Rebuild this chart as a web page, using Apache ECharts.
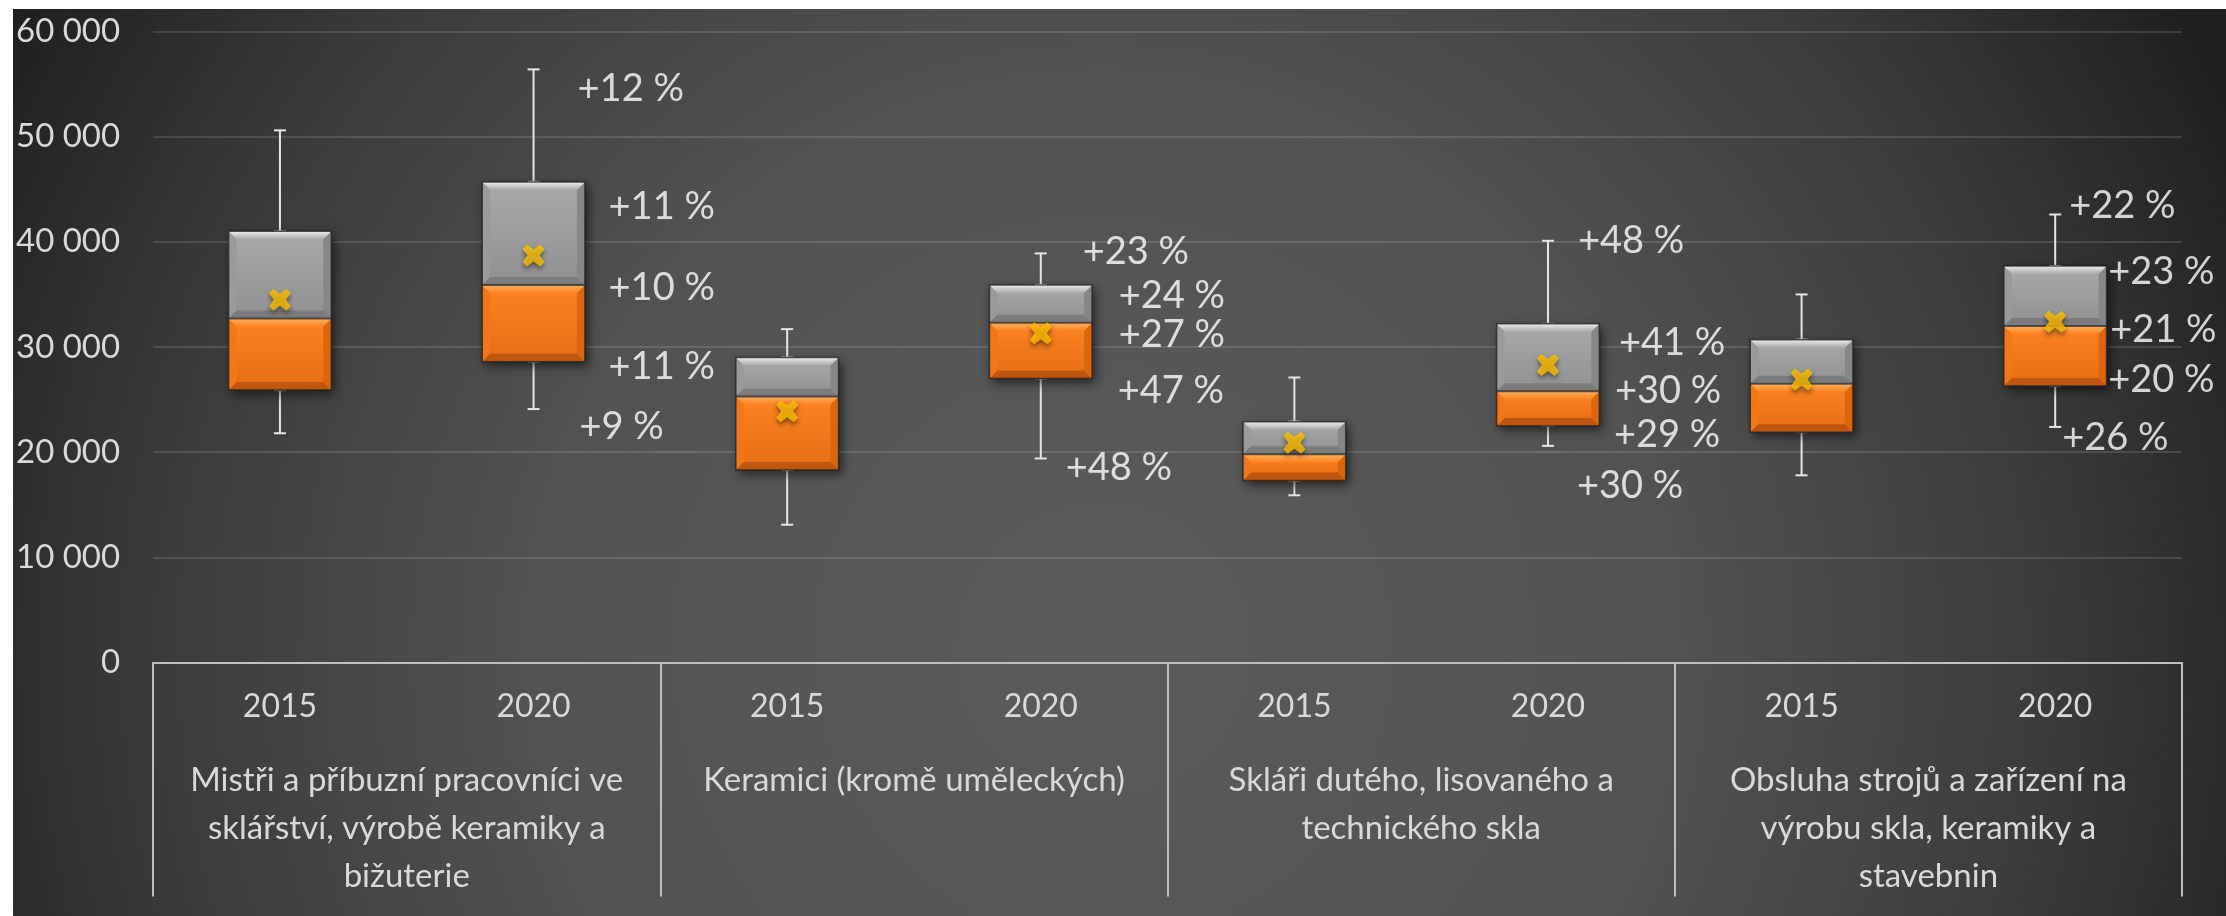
<!DOCTYPE html>
<html>
<head>
<meta charset="utf-8">
<script src="https://cdn.jsdelivr.net/npm/echarts@6/dist/echarts.min.js"></script>
<style>
  html, body { margin: 0; padding: 0; background: #ffffff; }
  #main { position: absolute; left: 13px; top: 9px; width: 2213px; height: 907px; }
</style>
</head>
<body>
<div id="main"></div>
<script>
// categories
const years = ['2015', '2020', '2015', '2020', '2015', '2020', '2015', '2020']
const groups = [
  'Mistři a příbuzní pracovníci ve\nsklářství, výrobě keramiky a\nbižuterie',
  'Keramici (kromě uměleckých)',
  'Skláři dutého, lisovaného a\ntechnického skla',
  'Obsluha strojů a zařízení na\nvýrobu skla, keramiky a\nstavebnin'
]

// box statistics, one value per year column
const mins    = [21800, 24100, 13100, 19400, 15900, 20600, 17800, 22400]
const q1s     = [25900, 28600, 18300, 27000, 17300, 22500, 21900, 26300]
const medians = [32700, 35900, 25300, 32300, 19800, 25800, 26500, 32000]
const q3s     = [41000, 45700, 29000, 35900, 22900, 32200, 30700, 37700]
const maxs    = [50600, 56400, 31700, 38900, 27100, 40100, 35000, 42600]
const means   = [34500, 38700, 23900, 31300, 20900, 28300, 26900, 32400]

// change labels next to each 2020 box (max, Q3, median, Q1, min)
const changeCols = [1, 3, 5, 7]
const changeTexts = [
  ['+12 %', '+11 %', '+10 %', '+11 %', '+9 %'],
  ['+23 %', '+24 %', '+27 %', '+47 %', '+48 %'],
  ['+48 %', '+41 %', '+30 %', '+29 %', '+30 %'],
  ['+22 %', '+23 %', '+21 %', '+20 %', '+26 %']
]
const changeAt = [
  [54600, 43300, 35600, 28100, 22400],
  [39100, 34900, 31200, 25800, 18500],
  [40100, 30400, 25800, 21700, 16800],
  [43400, 37200, 31600, 26900, 21400]
]
// horizontal shift of each label from the box centre (px)
const labelDx = [
  [44, 75, 75, 75, 46],
  [42, 78, 78, 77, 25],
  [30, 71, 67, 66, 29],
  [14, 53, 55, 53, 7]
]

const FONT = 'Lato, "Noto Sans", sans-serif'
var myChart = echarts.init(document.getElementById('main'))

const grayC = { top: '#a9a9a9', bottom: '#919191', hi: '#ededed', lo: '#7c7c7c', l: '#9a9a9a', r: '#878787' }
const orangeC = { top: '#fd8322', bottom: '#e86d14', hi: '#ffb060', lo: '#bf560f', l: '#f27719', r: '#da6710' }

function bevelBox(x, y, w, h, c) {
  var b = Math.min(8, h / 2)
  var hiGrad = new echarts.graphic.LinearGradient(0, 0, 0, 1, [
    { offset: 0, color: c.hi }, { offset: 1, color: c.top }
  ])
  return [
    { type: 'rect', shape: { x: x, y: y, width: w, height: h },
      style: { fill: new echarts.graphic.LinearGradient(0, 0, 0, 1, [
        { offset: 0, color: c.top }, { offset: 1, color: c.bottom }]) } },
    { type: 'polygon', shape: { points: [[x, y], [x + b, y + b], [x + b, y + h - b], [x, y + h]] }, style: { fill: c.l } },
    { type: 'polygon', shape: { points: [[x + w, y], [x + w - b, y + b], [x + w - b, y + h - b], [x + w, y + h]] }, style: { fill: c.r } },
    { type: 'polygon', shape: { points: [[x, y], [x + w, y], [x + w - b, y + b], [x + b, y + b]] }, style: { fill: hiGrad } },
    { type: 'polygon', shape: { points: [[x, y + h], [x + w, y + h], [x + w - b, y + h - b], [x + b, y + h - b]] }, style: { fill: c.lo } }
  ]
}

function renderBox(params, api) {
  var i = api.value(0)
  var pMin = api.coord([i, api.value(1)])
  var pQ1 = api.coord([i, api.value(2)])
  var pMed = api.coord([i, api.value(3)])
  var pQ3 = api.coord([i, api.value(4)])
  var pMax = api.coord([i, api.value(5)])
  var bw = api.size([1, 0])[0] * 0.405
  var cx = pMed[0]
  var x = cx - bw / 2
  var cap = 6
  var ws = { stroke: '#e6e6e6', lineWidth: 2 }
  var children = [
    { type: 'line', shape: { x1: cx, y1: pMax[1], x2: cx, y2: pQ3[1] }, style: ws },
    { type: 'line', shape: { x1: cx - cap, y1: pMax[1], x2: cx + cap, y2: pMax[1] }, style: ws },
    { type: 'line', shape: { x1: cx, y1: pQ1[1], x2: cx, y2: pMin[1] }, style: ws },
    { type: 'line', shape: { x1: cx - cap, y1: pMin[1], x2: cx + cap, y2: pMin[1] }, style: ws },
    { type: 'line', shape: { x1: cx - cap, y1: pQ3[1], x2: cx + cap, y2: pQ3[1] }, style: ws },
    { type: 'line', shape: { x1: cx - cap, y1: pQ1[1], x2: cx + cap, y2: pQ1[1] }, style: ws },
    { type: 'rect', shape: { x: x, y: pQ3[1], width: bw, height: pQ1[1] - pQ3[1] },
      style: { fill: '#333', shadowBlur: 10, shadowOffsetX: 3, shadowOffsetY: 4, shadowColor: 'rgba(0,0,0,0.6)' } }
  ]
  children = children.concat(bevelBox(x, pQ3[1], bw, pMed[1] - pQ3[1], grayC))
  children = children.concat(bevelBox(x, pMed[1], bw, pQ1[1] - pMed[1], orangeC))
  children.push({ type: 'line', shape: { x1: x, y1: pMed[1], x2: x + bw, y2: pMed[1] },
    style: { stroke: 'rgba(50,50,50,0.8)', lineWidth: 2 } })
  children.push({ type: 'rect', shape: { x: x, y: pQ3[1], width: bw, height: pQ1[1] - pQ3[1] },
    style: { fill: 'none', stroke: 'rgba(30,30,30,0.75)', lineWidth: 1.5 } })
  return { type: 'group', children: children }
}

var boxData = years.map((y, i) => [i, mins[i], q1s[i], medians[i], q3s[i], maxs[i]])
var meanData = means.map((v, i) => [i, v])
var labelData = []
changeCols.forEach((col, g) => {
  changeTexts[g].forEach((t, k) => {
    labelData.push({
      value: [col, changeAt[g][k]],
      label: { formatter: t, position: [labelDx[g][k], 0] }
    })
  })
})

var xSymbol = 'path://M0,4 L4,0 L10,4.5 L16,0 L20,4 L15.5,10 L20,16 L16,20 L10,15.5 L4,20 L0,16 L4.5,10 Z'

var option = {
  backgroundColor: new echarts.graphic.RadialGradient(1090, 640, 1260, [
    { offset: 0, color: '#5b5b5b' },
    { offset: 0.45, color: '#525252' },
    { offset: 0.75, color: '#3b3b3b' },
    { offset: 1, color: '#1f1f1f' }
  ], true),
  animation: false,
  grid: { left: 140, right: 44, top: 22.5, bottom: 253.5 },
  xAxis: [
    {
      type: 'category',
      data: years,
      axisLine: { show: true, lineStyle: { color: '#bfbfbf', width: 2 } },
      axisTick: { show: false },
      axisLabel: { interval: 0, color: '#d9d9d9', fontSize: 32, fontFamily: FONT, margin: 28 }
    },
    {
      type: 'category',
      data: groups,
      position: 'bottom',
      axisLine: { show: false },
      axisTick: { show: true, length: 234, lineStyle: { color: '#bfbfbf', width: 2 } },
      axisLabel: { interval: 0, color: '#d9d9d9', fontSize: 33, lineHeight: 48, fontFamily: FONT, margin: 94, align: 'center' }
    }
  ],
  yAxis: {
    type: 'value',
    min: 0,
    max: 60000,
    interval: 10000,
    axisLine: { show: false },
    axisTick: { show: false },
    splitLine: { lineStyle: { color: 'rgba(255,255,255,0.13)', width: 2 } },
    axisLabel: {
      color: '#d9d9d9', fontSize: 33, fontFamily: FONT, margin: 33,
      formatter: v => String(v).replace(/\B(?=(\d{3})+(?!\d))/g, ' ')
    }
  },
  series: [
    {
      type: 'custom',
      renderItem: renderBox,
      encode: { x: 0, y: [1, 2, 3, 4, 5] },
      data: boxData
    },
    {
      type: 'scatter',
      data: meanData,
      symbol: xSymbol,
      symbolSize: [22, 22],
      itemStyle: { color: '#ffc000', shadowBlur: 5, shadowOffsetY: 3, shadowColor: 'rgba(0,0,0,0.6)' },
      z: 5
    },
    {
      type: 'scatter',
      data: labelData,
      symbolSize: 0,
      label: { show: true, color: '#ffffff', fontSize: 38, fontFamily: FONT, align: 'left', verticalAlign: 'middle' },
      z: 6
    }
  ]
}
myChart.setOption(option)
</script>
</body>
</html>
